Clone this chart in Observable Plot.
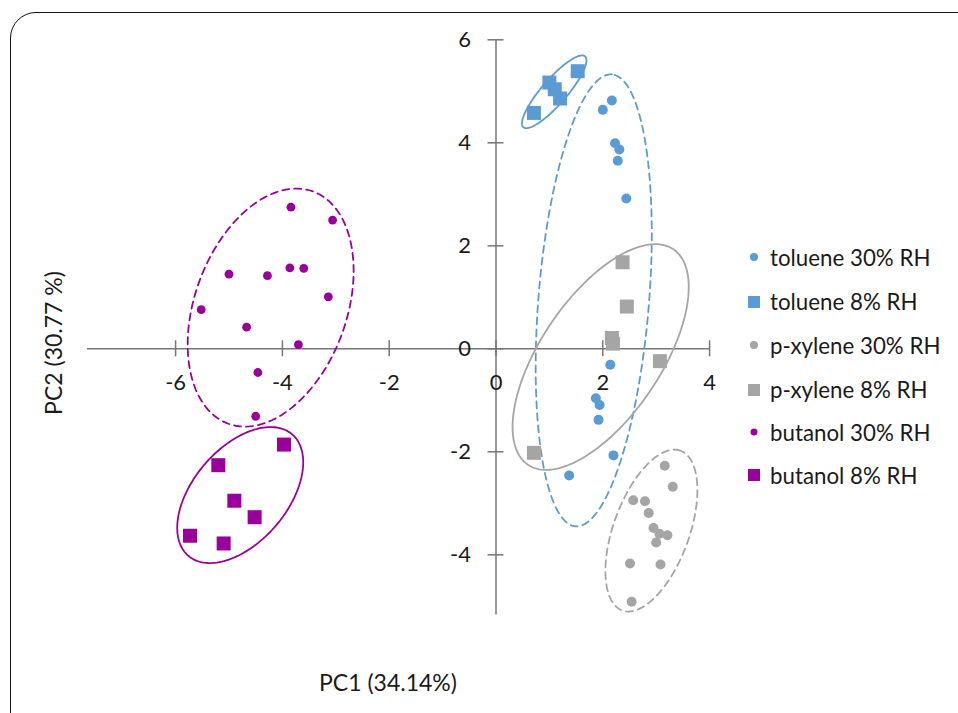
<!DOCTYPE html>
<html><head><meta charset="utf-8">
<script src="https://cdn.jsdelivr.net/npm/d3@7"></script>
<script src="https://cdn.jsdelivr.net/npm/@observablehq/plot@0.6"></script>
<style>
html,body{margin:0;padding:0;background:#fff;overflow:hidden;width:958px;height:713px;}
#wrap{position:relative;width:958px;height:713px;font-family:Lato,"Open Sans",sans-serif;}
#border{position:absolute;left:10px;top:12px;width:990px;height:760px;border:1.8px solid #111;border-radius:26px;box-sizing:border-box;}
#chart{position:absolute;left:0;top:0;}
.lab{position:absolute;font-size:23px;color:#1a1a1a;white-space:nowrap;line-height:1;}
#xtitle{left:388px;top:682px;transform:translate(-50%,-50%);}
#ytitle{left:53px;top:343px;transform:translate(-50%,-50%) rotate(-90deg);}
#legend{position:absolute;left:745px;top:0;}
.row{position:absolute;left:0;display:flex;align-items:center;height:24px;transform:translateY(-50%);}
.row svg{width:20px;height:20px;margin-right:5px;}
.row span{font-size:22.3px;color:#1a1a1a;white-space:nowrap;}
</style></head><body>
<div id="wrap"><div id="border"></div><div id="chart"></div>
<div class="lab" id="xtitle">PC1 (34.14%)</div>
<div class="lab" id="ytitle">PC2 (30.77 %)</div>
<div id="legend"></div></div>
<script>
// ---- data ----
const seriesNames = ["toluene 30% RH","toluene 8% RH","p-xylene 30% RH","p-xylene 8% RH","butanol 30% RH","butanol 8% RH"];
const toluene30 = [[2.17,4.82],[2.00,4.64],[2.23,3.99],[2.31,3.87],[2.28,3.65],[2.44,2.92],[2.14,-0.31],[1.87,-0.96],[1.94,-1.09],[1.92,-1.38],[2.20,-2.07],[1.37,-2.46]];
const toluene8 = [[0.71,4.58],[1.00,5.17],[1.10,5.04],[1.20,4.86],[1.53,5.39]];
const pxylene30 = [[3.16,-2.27],[3.31,-2.68],[2.57,-2.94],[2.79,-2.96],[2.86,-3.19],[2.95,-3.48],[3.06,-3.59],[3.21,-3.62],[3.00,-3.76],[2.51,-4.17],[3.08,-4.19],[2.54,-4.91]];
const pxylene8 = [[2.37,1.68],[2.45,0.82],[2.17,0.21],[2.19,0.10],[3.07,-0.24],[0.71,-2.02]];
const butanol30 = [[-3.84,2.75],[-3.06,2.50],[-5.00,1.45],[-4.28,1.42],[-3.86,1.57],[-3.60,1.56],[-3.14,1.01],[-5.52,0.76],[-4.67,0.42],[-3.70,0.08],[-4.46,-0.46],[-4.50,-1.31]];
const butanol8 = [[-3.97,-1.86],[-5.20,-2.26],[-4.90,-2.95],[-4.52,-3.27],[-5.73,-3.63],[-5.10,-3.78]];
const xTicks = [-6,-4,-2,0,2,4];
const yTicks = [-4,-2,0,2,4,6];
// confidence ellipses: center x, center y, semi-major, semi-minor (x-axis units), angle (deg)
const ellipseSeries = ["toluene 8% RH","toluene 30% RH","p-xylene 8% RH","p-xylene 30% RH","butanol 30% RH","butanol 8% RH"];
const ellipseCx = [1.09, 1.83, 1.96, 2.91, -4.22, -4.79];
const ellipseCy = [4.99, 0.94, -0.16, -3.53, 0.80, -2.84];
const ellipseA = [0.88, 4.245, 2.434, 1.592, 2.315, 1.496];
const ellipseB = [0.234, 1.036, 1.124, 0.71, 1.423, 0.88];
const ellipseAngle = [49, 85.4, 56, 70, 70, 49.5];
const ellipseDashed = [false, true, false, true, true, false];

// ---- styling / layout ----
const colors = {toluene:"#5B9BD5", "p-xylene":"#A5A5A5", butanol:"#990099"};
const colorOf = name => colors[name.split(" ")[0]];
const X0 = 495.5, SX = 53.4, Y0 = 348.3, SY = 51.5;
const xDom = [-7.65, 4], yDom = [-5.17, 6];

const toRows = (arr, name) => arr.map(([x,y]) => ({x, y, series:name}));
const seriesData = [toluene30, toluene8, pxylene30, pxylene8, butanol30, butanol8];
const points = seriesData.flatMap((arr,i) => toRows(arr, seriesNames[i]));
const bigCircles = points.filter(d => d.series.includes("30%") && !d.series.startsWith("butanol"));
const smallCircles = points.filter(d => d.series === "butanol 30% RH");
const squares = points.filter(d => d.series.includes("8%"));

function ellipsePoints(i) {
  const th = ellipseAngle[i]*Math.PI/180, n = 160, pts = [];
  for (let k = 0; k < n; k++) {
    const t = 2*Math.PI*k/n;
    const u = ellipseA[i]*Math.cos(t), v = ellipseB[i]*Math.sin(t);
    pts.push({x: ellipseCx[i] + u*Math.cos(th) - v*Math.sin(th),
              y: ellipseCy[i] + (u*Math.sin(th) + v*Math.cos(th))*SX/SY});
  }
  return pts;
}
const ellipseMarks = ellipseSeries.map((name,i) => Plot.line(ellipsePoints(i), {
  x:"x", y:"y", curve:"linear-closed", stroke: colorOf(name),
  strokeWidth: 1.8, strokeDasharray: ellipseDashed[i] ? "7,5" : null
}));

const axisColor = "#777";
const plot = Plot.plot({
  width: 958, height: 713,
  x: {domain: xDom, range: [X0 + xDom[0]*SX, X0 + xDom[1]*SX], axis: null},
  y: {domain: yDom, range: [Y0 - yDom[0]*SY, Y0 - yDom[1]*SY], axis: null},
  style: {background: "transparent", fontFamily: "Lato, 'Open Sans', sans-serif"},
  marks: [
    Plot.ruleY([0], {x1: xDom[0], x2: xDom[1], stroke: axisColor, strokeWidth: 1.5}),
    Plot.ruleX([0], {y1: yDom[0], y2: yDom[1], stroke: axisColor, strokeWidth: 1.5}),
    Plot.ruleX(xTicks, {x: d => d, y1: 0, y2: 0, insetTop: 8, insetBottom: 8, stroke: axisColor, strokeWidth: 1.5}),
    Plot.ruleY(yTicks, {y: d => d, x1: 0, x2: 0, insetLeft: 8, insetRight: 8, stroke: axisColor, strokeWidth: 1.5}),
    Plot.text(xTicks, {x: d => d, y: 0, text: d => String(d), dy: 34, fontSize: 22, fill: "#1a1a1a"}),
    Plot.text(yTicks, {x: 0, y: d => d, text: d => String(d), dx: -25, textAnchor: "end", fontSize: 22, fill: "#1a1a1a"}),
    ...ellipseMarks,
    Plot.dot(bigCircles, {x: "x", y: "y", fill: d => colorOf(d.series), r: 5, stroke: "none"}),
    Plot.dot(smallCircles, {x: "x", y: "y", fill: d => colorOf(d.series), r: 4.4, stroke: "none"}),
    Plot.dot(squares, {x: "x", y: "y", fill: d => colorOf(d.series), symbol: "square", r: 7.9, stroke: "none"})
  ]
});
document.getElementById("chart").appendChild(plot);

// legend
const legendY = [257, 301.5, 345, 389.5, 432, 475];
const legend = document.getElementById("legend");
seriesNames.forEach((name, i) => {
  const row = document.createElement("div");
  row.className = "row";
  row.style.top = legendY[i] + "px";
  const c = colorOf(name);
  const marker = name.includes("30%")
    ? `<circle cx="9" cy="10" r="${name.startsWith("butanol") ? 3.5 : 4}" fill="${c}"/>`
    : `<rect x="3" y="4" width="12" height="12" fill="${c}"/>`;
  row.innerHTML = `<svg viewBox="0 0 20 20">${marker}</svg><span>${name}</span>`;
  legend.appendChild(row);
});
</script>
</body></html>
